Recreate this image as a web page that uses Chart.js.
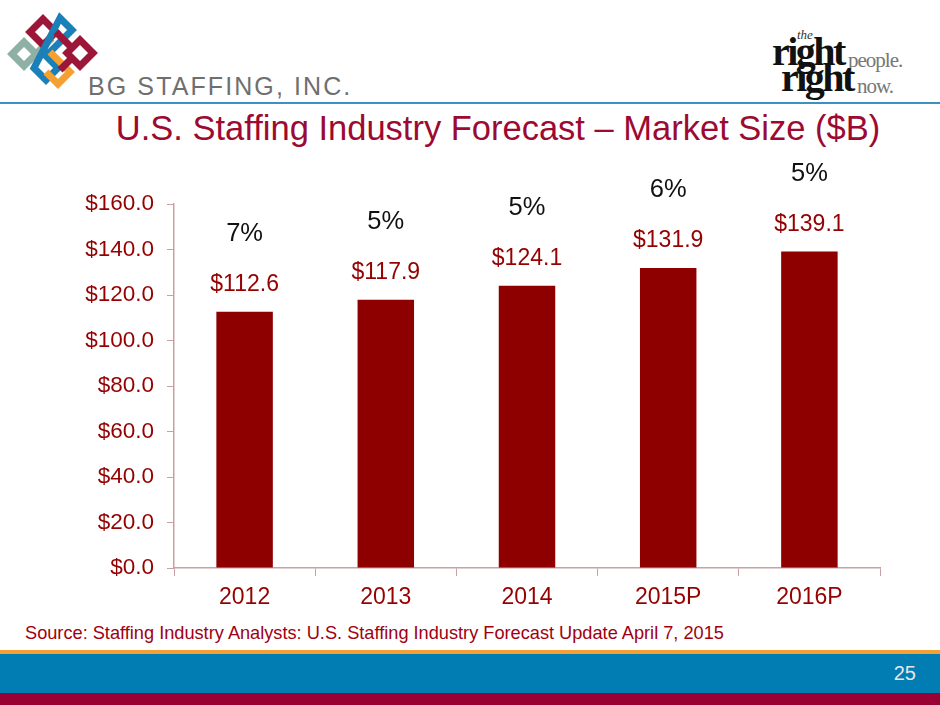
<!DOCTYPE html>
<html><head><meta charset="utf-8">
<script src="https://cdn.jsdelivr.net/npm/chart.js@4.4.0/dist/chart.umd.min.js"></script>
<style>
html,body{margin:0;padding:0;background:#fff;width:940px;height:705px;overflow:hidden;font-family:"Liberation Sans",Arial,sans-serif;}
#wrap{position:relative;width:940px;height:705px;}
.abs{position:absolute;}
#brand{left:88px;top:72px;font-size:25px;letter-spacing:2.1px;color:#6f6f6f;white-space:nowrap;}
#hline{left:0;top:102px;width:940px;height:2px;background:#3d90c4;}
#title{left:0;width:996px;top:109px;text-align:center;font-size:34.5px;color:#9c0a32;white-space:nowrap;}
#source{left:25px;top:623px;font-size:18.2px;color:#a0000f;white-space:nowrap;}
#orange{left:0;top:650px;width:940px;height:4px;background:#f5a033;}
#blue{left:0;top:654px;width:940px;height:39px;background:#017db3;}
#red{left:0;top:693px;width:940px;height:12px;background:#990033;}
#page{left:880px;top:662px;width:36px;text-align:right;font-size:20px;color:#e6e6e6;}
#chartbox{left:0;top:140px;width:900px;height:480px;}
.rl{font-family:"Liberation Serif","DejaVu Serif",serif;color:#111;white-space:nowrap;}
</style></head>
<body><div id="wrap">
<svg class="abs" style="left:0;top:0" width="110" height="100" viewBox="0 0 110 100">
 <g fill="none" stroke-width="7" stroke-linejoin="miter">
  <path d="M24 42 L36 54 L24 66 L12 54 Z" stroke="#8fb0a4"/>
  <path d="M36 54 L52 38" stroke="#8fb0a4"/>
  <path d="M43 19 L56 32 L43 45 L30 32 Z" stroke="#9b1638"/>
  <path d="M60 18 L72 30 L46 56 L58 68 L46 80 L34 68 Z" stroke="#1b80b8"/>
  <path d="M56 32 L74 50" stroke="#9b1638"/>
  <path d="M80 40 L93 53 L80 66 L67 53 Z" stroke="#9b1638"/>
  <path d="M50 52 L70 72 L58 84 L46 72" stroke="#f5a033"/>
  <path d="M70 60 L60 70" stroke="#9b1638"/>
 </g>
</svg>
<div id="brand" class="abs">BG STAFFING, INC.</div>
<div class="abs rl" style="left:797px;top:27px;font-size:13px;font-style:italic;color:#333;">the</div>
<div class="abs rl" style="left:772px;top:28px;font-size:40px;font-weight:bold;letter-spacing:-2.5px;">right</div>
<div class="abs rl" style="left:848px;top:48px;font-size:21px;color:#777;letter-spacing:-1px;">people.</div>
<div class="abs rl" style="left:781px;top:54px;font-size:40px;font-weight:bold;letter-spacing:-2.5px;">right</div>
<div class="abs rl" style="left:857px;top:74px;font-size:21px;color:#777;letter-spacing:-1px;">now.</div>
<div id="hline" class="abs"></div>
<div id="title" class="abs">U.S. Staffing Industry Forecast – Market Size ($B)</div>
<div id="chartbox" class="abs"><canvas id="c" width="900" height="480"></canvas></div>
<div id="source" class="abs">Source: Staffing Industry Analysts: U.S. Staffing Industry Forecast Update April 7, 2015</div>
<div id="orange" class="abs"></div>
<div id="blue" class="abs"></div>
<div id="red" class="abs"></div>
<div id="page" class="abs">25</div>
</div>
<script>
const categories = ["2012", "2013", "2014", "2015P", "2016P"];
const marketSize = [112.6, 117.9, 124.1, 131.9, 139.1];
const growthPct = ["7%", "5%", "5%", "6%", "5%"];
const yTicks = [0, 20, 40, 60, 80, 100, 120, 140, 160];

const AXIS = "#c9a0a3";
const RED = "#950000";

const labelPlugin = {
  id: "barLabels",
  afterDatasetsDraw(chart) {
    const ctx = chart.ctx;
    const meta = chart.getDatasetMeta(0);
    ctx.save();
    ctx.textAlign = "center";
    ctx.textBaseline = "middle";
    meta.data.forEach((bar, i) => {
      ctx.font = '23px "Liberation Sans", Arial, sans-serif';
      ctx.fillStyle = RED;
      ctx.fillText("$" + marketSize[i].toFixed(1), bar.x, bar.y - 27);
      ctx.font = '25.5px "Liberation Sans", Arial, sans-serif';
      ctx.fillStyle = "#111";
      ctx.fillText(growthPct[i], bar.x, bar.y - 78);
    });
    ctx.restore();
  }
};

new Chart(document.getElementById("c"), {
  type: "bar",
  data: {
    labels: categories,
    datasets: [{
      data: marketSize,
      backgroundColor: "#8e0000",
      barPercentage: 0.8,
      categoryPercentage: 0.5
    }]
  },
  options: {
    responsive: false,
    animation: false,
    devicePixelRatio: 1,
    layout: { padding: { top: 64, right: 20, left: 0, bottom: 0 } },
    plugins: { legend: { display: false }, tooltip: { enabled: false } },
    scales: {
      x: {
        grid: { drawOnChartArea: false, color: AXIS, tickLength: 8, offset: true },
        border: { color: AXIS, width: 1.5 },
        ticks: { color: RED, font: { size: 23, family: '"Liberation Sans", Arial, sans-serif' }, padding: 8 },
        afterFit(s) { s.height = 52; }
      },
      y: {
        min: 0, max: 160,
        afterBuildTicks(s) { s.ticks = yTicks.map(v => ({ value: v })); },
        grid: { drawOnChartArea: false, color: AXIS, tickLength: 7 },
        border: { color: AXIS, width: 1.5 },
        ticks: {
          color: RED, padding: 13,
          font: { size: 22.5, family: '"Liberation Sans", Arial, sans-serif' },
          callback: v => "$" + Number(v).toFixed(1)
        },
        afterFit(s) { s.width = 174; }
      }
    }
  },
  plugins: [labelPlugin]
});
</script>
</body></html>
